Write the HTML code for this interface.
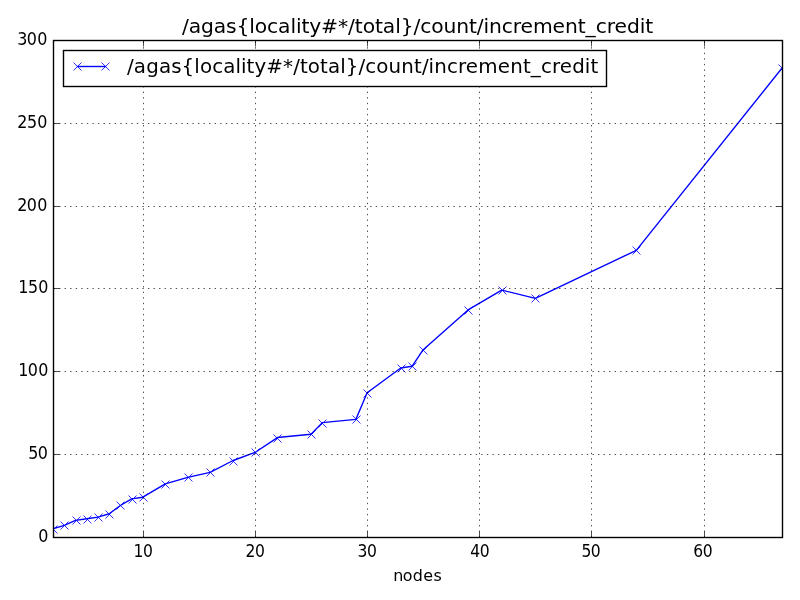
<!DOCTYPE html>
<html><head><meta charset="utf-8"><title>/agas{locality#*/total}/count/increment_credit</title><style>
html,body{margin:0;padding:0;background:#fff;width:800px;height:600px;overflow:hidden}
svg{display:block}
</style></head><body>
<svg width="800" height="600" viewBox="0 0 800 600">
<rect x="0" y="0" width="800" height="600" fill="#fff"/>
<defs><clipPath id="ax"><rect x="53" y="40" width="729" height="497"/></clipPath></defs>
<g clip-path="url(#ax)">
<polyline fill="none" stroke="#0000ff" stroke-width="1.3889" stroke-linejoin="round" stroke-linecap="square" points="53.120,528.685 64.335,525.371 75.550,520.400 86.765,518.743 97.980,517.086 109.195,513.772 120.410,505.487 131.625,498.859 142.840,497.202 165.270,483.946 187.700,477.318 210.130,472.347 232.560,460.748 254.990,452.463 277.420,437.550 311.065,434.236 322.280,422.637 355.925,419.323 367.140,392.811 400.785,367.956 412.000,366.299 423.215,349.729 468.075,309.961 501.720,290.077 535.365,298.362 636.300,250.309 782.095,68.039"/>
<path fill="none" stroke="#0000ff" stroke-width="0.8000" d="M49.5 525.5l8 8M57.5 525.5l-8 8M60.5 521.5l8 8M68.5 521.5l-8 8M72.5 516.5l8 8M80.5 516.5l-8 8M83.5 515.5l8 8M91.5 515.5l-8 8M94.5 513.5l8 8M102.5 513.5l-8 8M105.5 510.5l8 8M113.5 510.5l-8 8M116.5 501.5l8 8M124.5 501.5l-8 8M128.5 495.5l8 8M136.5 495.5l-8 8M139.5 493.5l8 8M147.5 493.5l-8 8M161.5 480.5l8 8M169.5 480.5l-8 8M184.5 473.5l8 8M192.5 473.5l-8 8M206.5 468.5l8 8M214.5 468.5l-8 8M229.5 457.5l8 8M237.5 457.5l-8 8M251.5 448.5l8 8M259.5 448.5l-8 8M273.5 434.5l8 8M281.5 434.5l-8 8M307.5 430.5l8 8M315.5 430.5l-8 8M318.5 419.5l8 8M326.5 419.5l-8 8M352.5 415.5l8 8M360.5 415.5l-8 8M363.5 389.5l8 8M371.5 389.5l-8 8M397.5 364.5l8 8M405.5 364.5l-8 8M408.5 362.5l8 8M416.5 362.5l-8 8M419.5 346.5l8 8M427.5 346.5l-8 8M464.5 306.5l8 8M472.5 306.5l-8 8M498.5 286.5l8 8M506.5 286.5l-8 8M531.5 294.5l8 8M539.5 294.5l-8 8M632.5 246.5l8 8M640.5 246.5l-8 8M778.5 64.5l8 8M786.5 64.5l-8 8"/>
</g>
<g fill="none" stroke="#000" stroke-width="0.6944" stroke-dasharray="1.3889,4.1667"><path d="M143.5 537.5V40.5"/><path d="M255.5 537.5V40.5"/><path d="M367.5 537.5V40.5"/><path d="M479.5 537.5V40.5"/><path d="M591.5 537.5V40.5"/><path d="M704.5 537.5V40.5"/><path d="M53.5 454.5H782.5"/><path d="M53.5 371.5H782.5"/><path d="M53.5 288.5H782.5"/><path d="M53.5 206.5H782.5"/><path d="M53.5 123.5H782.5"/></g>
<path fill="none" stroke="#000" stroke-width="0.6944" d="M143.5 537.5v-6M143.5 40.5v6M255.5 537.5v-6M255.5 40.5v6M367.5 537.5v-6M367.5 40.5v6M479.5 537.5v-6M479.5 40.5v6M591.5 537.5v-6M591.5 40.5v6M704.5 537.5v-6M704.5 40.5v6M53.5 454.5h6M782.5 454.5h-6M53.5 371.5h6M782.5 371.5h-6M53.5 288.5h6M782.5 288.5h-6M53.5 206.5h6M782.5 206.5h-6M53.5 123.5h6M782.5 123.5h-6"/>
<rect x="53.5" y="40.5" width="729" height="497" fill="none" stroke="#000" stroke-width="1.3889" stroke-linejoin="miter"/>
<rect x="63.5" y="50.5" width="543" height="36" fill="#fff" stroke="#000" stroke-width="1.3889"/>
<path fill="none" stroke="#0000ff" stroke-width="1.3889" stroke-linecap="square" d="M77.5 66.5H105.5"/>
<path fill="none" stroke="#0000ff" stroke-width="0.8000" d="M73.5 62.5l8 8M81.5 62.5l-8 8M101.5 62.5l8 8M109.5 62.5l-8 8"/>
<g fill="#000" font-family="'DejaVu Sans', 'Liberation Sans', sans-serif"><text id="title" x="0.000 6.652 18.846 31.410 43.359 53.828 66.392 71.812 83.884 94.723 106.918 112.337 117.757 125.517 136.973 153.725 163.702 170.354 178.114 190.185 197.945 210.140 215.560 228.124 234.775 245.615 257.686 270.250 282.814 290.574 297.226 302.646 315.210 326.049 333.564 346.004 365.097 377.537 390.101 397.616 407.839 418.679 426.193 438.633 451.197 456.617" y="0" font-size="20.0000" transform="translate(181.982 32.560) scale(1.0148 1.0112)">/agas{locality#*/total}/count/increment_credit</text><text id="legend" x="0.000 6.796 19.256 32.093 44.553 54.747 67.584 73.374 85.708 96.783 109.243 114.781 120.318 128.247 140.203 157.068 167.262 174.059 181.988 194.321 202.250 214.710 220.248 233.085 239.881 250.957 263.290 276.128 288.965 296.894 303.438 309.228 322.065 333.140 341.069 353.529 373.288 385.748 398.585 406.514 416.709 427.784 435.713 448.173 460.758 466.548" y="0" font-size="20.0000" transform="translate(127.060 72.700) scale(0.9932 1.0155)">/agas{locality#*/total}/count/increment_credit</text><text id="x10" x="-10.332 -0.016" y="0" font-size="16.6667" transform="translate(143.090 556.500) scale(0.9350 1.0600)">10</text><text id="x20" x="-10.600 -0.283" y="0" font-size="16.6667" transform="translate(255.360 556.500) scale(0.9350 1.0600)">20</text><text id="x30" x="-10.600 -0.283" y="0" font-size="16.6667" transform="translate(367.330 556.500) scale(0.9350 1.0600)">30</text><text id="x40" x="-10.600 -0.283" y="0" font-size="16.6667" transform="translate(480.040 556.500) scale(0.9350 1.0600)">40</text><text id="x50" x="-10.332 -0.283" y="0" font-size="16.6667" transform="translate(591.060 556.500) scale(0.9350 1.0600)">50</text><text id="x60" x="-10.600 -0.283" y="0" font-size="16.6667" transform="translate(703.090 556.500) scale(0.9350 1.0600)">60</text><text id="y0" x="-10.596" y="0" font-size="16.6667" transform="translate(48.400 541.520) scale(0.9575 1.0825)">0</text><text id="y50" x="-20.931 -10.872" y="0" font-size="16.6667" transform="translate(48.270 458.670) scale(0.9575 1.0825)">50</text><text id="y100" x="-31.527 -21.468 -10.611" y="0" font-size="16.6667" transform="translate(48.400 375.570) scale(0.9575 1.0825)">100</text><text id="y150" x="-31.527 -21.207 -10.611" y="0" font-size="16.6667" transform="translate(48.400 292.720) scale(0.9575 1.0825)">150</text><text id="y200" x="-31.527 -21.468 -10.611" y="0" font-size="16.6667" transform="translate(47.400 210.620) scale(0.9575 1.0825)">200</text><text id="y250" x="-31.527 -21.207 -10.611" y="0" font-size="16.6667" transform="translate(47.400 127.520) scale(0.9575 1.0825)">250</text><text id="y300" x="-31.527 -21.468 -10.611" y="0" font-size="16.6667" transform="translate(47.400 44.670) scale(0.9575 1.0825)">300</text><text id="xlabel" x="-25.118 -15.104 -4.644 6.185 16.938" y="0" font-size="16.6667" transform="translate(417.250 580.600) scale(0.9575 0.9850)">nodes</text></g>
</svg>
</body></html>
